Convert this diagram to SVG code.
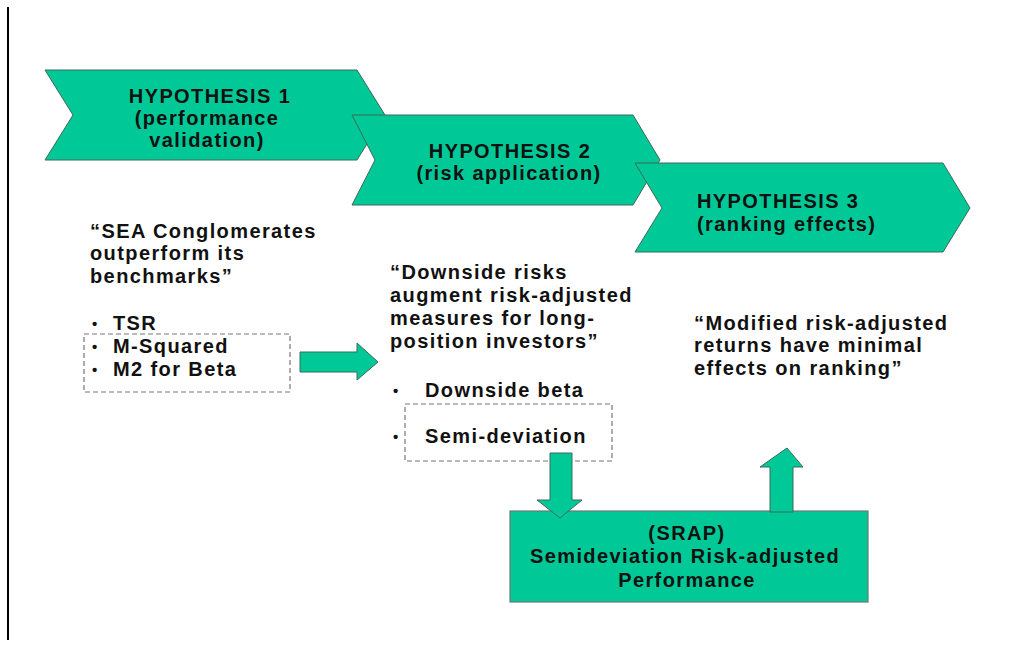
<svg xmlns="http://www.w3.org/2000/svg" width="1026" height="650" viewBox="0 0 1026 650">
<style>
.shape{fill:#00C896;stroke:#3d6a5b;stroke-width:1}
.box{fill:#00C896;stroke:#6b7b76;stroke-width:1.2}
.dash{fill:none;stroke:#777;stroke-width:1.2;stroke-dasharray:5 3}
text{font-family:"Liberation Sans",Arial,sans-serif;font-weight:bold;font-size:20px;fill:#111;letter-spacing:1.4px}
.c{text-anchor:middle}
.b{font-size:15px}
</style>
<rect width="1026" height="650" fill="#fff"/>
<line x1="8" y1="7" x2="8" y2="640" stroke="#000" stroke-width="2"/>
<g id="hyp1">
<polygon class="shape" points="45,70 357,70 385,115 357,160 45,160 73,115"/>
<text class="c" x="210" y="103">HYPOTHESIS 1</text>
<text class="c" x="207" y="125">(performance</text>
<text class="c" x="207" y="147">validation)</text>
</g>
<g id="hyp2">
<polygon class="shape" points="352,115 633,115 660,160 633,205 352,205 375,160"/>
<text class="c" x="510" y="158">HYPOTHESIS 2</text>
<text class="c" x="509" y="180">(risk application)</text>
</g>
<g id="hyp3">
<polygon class="shape" points="635,163 943,163 970,208 943,252 635,252 662,208"/>
<text x="697" y="208">HYPOTHESIS 3</text>
<text x="697" y="231">(ranking effects)</text>
</g>
<g id="h1-text">
<text x="90" y="238">“SEA Conglomerates</text>
<text x="90" y="260">outperform its</text>
<text x="90" y="283">benchmarks”</text>
<text class="b" x="92" y="329">•</text>
<text x="113" y="330">TSR</text>
<text class="b" x="92" y="352">•</text>
<text x="113" y="353">M-Squared</text>
<text class="b" x="92" y="375">•</text>
<text x="113" y="376">M2 for Beta</text>
<rect class="dash" x="84" y="334" width="206" height="58"/>
</g>
<g id="h2-text">
<text x="390" y="279">“Downside risks</text>
<text x="390" y="302">augment risk-adjusted</text>
<text x="390" y="325">measures for long-</text>
<text x="390" y="348">position investors”</text>
<text class="b" x="393" y="396">•</text>
<text x="425" y="397">Downside beta</text>
<text class="b" x="393" y="442">•</text>
<text x="425" y="443">Semi-deviation</text>
<rect class="dash" x="405" y="404" width="207" height="57"/>
</g>
<g id="h3-text">
<text x="694" y="330">“Modified risk-adjusted</text>
<text x="694" y="352">returns have minimal</text>
<text x="694" y="375">effects on ranking”</text>
</g>
<g id="srap">
<rect class="box" x="510" y="511" width="358" height="91"/>
<text class="c" x="687" y="540">(SRAP)</text>
<text class="c" x="685" y="563">Semideviation Risk-adjusted</text>
<text class="c" x="687" y="587">Performance</text>
</g>
<g id="connectors">
<polygon class="shape" points="300,352 357,352 357,343 378,362 357,380 357,372 300,372"/>
<polygon class="shape" points="550,453 572,453 572,500 582,500 560,518 537,500 550,500"/>
<polygon class="shape" points="770,512 793,512 793,467 803,467 787,448 760,467 770,467"/>
</g>
</svg>
